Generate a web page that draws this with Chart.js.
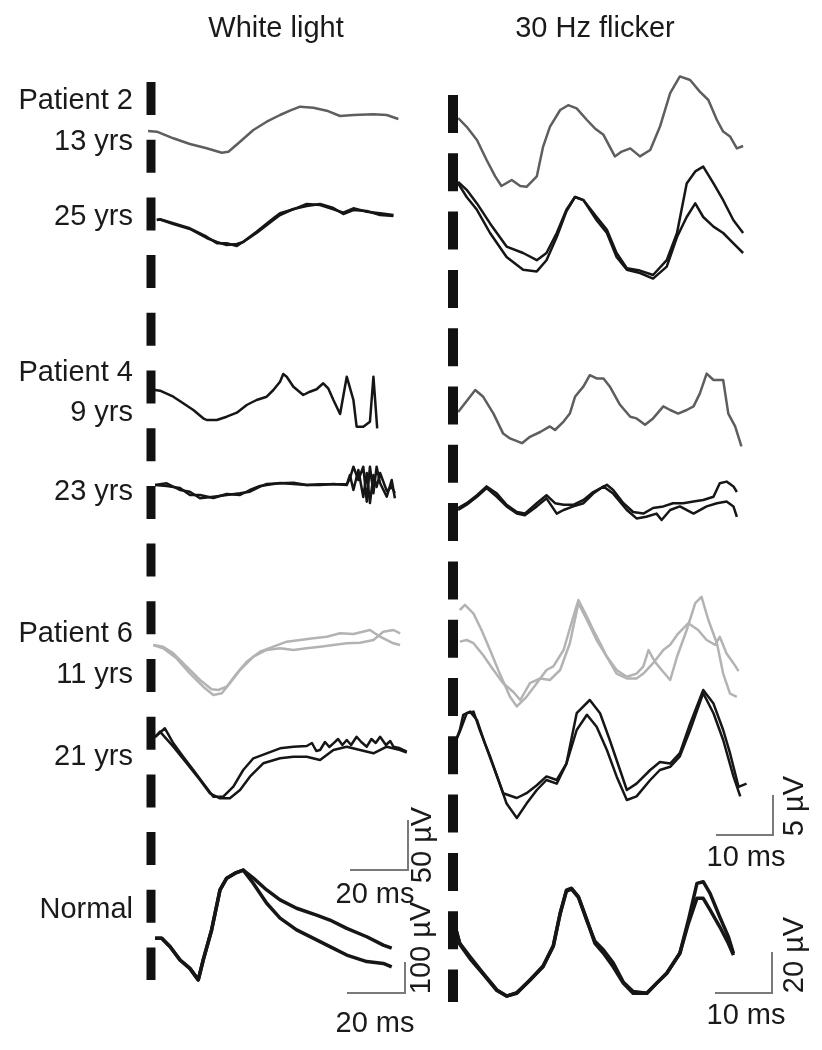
<!DOCTYPE html>
<html>
<head>
<meta charset="utf-8">
<script src="https://cdn.jsdelivr.net/npm/chart.js@4.4.1/dist/chart.umd.min.js"></script>
<style>
  body { margin: 0; background: #fff; }
  #wrap { position: relative; width: 822px; height: 1050px; overflow: hidden;
          font-family: "Liberation Sans", Arial, sans-serif; color: #1a1a1a; }
  #erg { position: absolute; left: 0; top: 0; }
  .lbl { position: absolute; font-size: 29px; line-height: 1; white-space: nowrap; }
</style>
</head>
<body>
<div id="wrap"><canvas id="erg" width="822" height="1050"></canvas></div>
<script>
/* global Chart */

// ---- white light (time in ms, amplitude in µV) ----
const wTimeP2a = [-1, 2.0, 7.7, 13.4, 19.2, 24.4, 26.7, 30.7, 35.3, 39.9, 44.5, 47.9, 51.4, 56.0, 60.6, 65.2, 69.8, 76.7, 81.3, 85.3];
const wP2_13   = [0, -0.7, -7.3, -13, -17.3, -21.7, -20.7, -10.7, 1, 9.3, 16, 20.3, 24.3, 23.3, 20.3, 15, 16, 16.7, 16, 12];
const wTimeP2b = [2.0, 3.1, 7.7, 13.4, 19.2, 22.7, 26.1, 29.6, 31.8, 36.4, 42.2, 44.5, 49.1, 53.7, 58.3, 62.9, 66.3, 69.8, 74.4, 79.0, 83.6];
const wP2_25a  = [0, 0.7, -3.3, -8.3, -16.7, -23.3, -23.3, -26, -21.7, -11.7, 1.7, 6.7, 10.7, 16, 15, 10.7, 7.3, 11.7, 8.3, 6.7, 5];
const wP2_25b  = [0, 0.5, -4, -9, -18, -22, -25, -24, -22, -13, 0, 5, 11, 14, 16, 12, 6, 10, 9, 5, 4];

const wTimeP4a = [1.4, 3.1, 7.7, 11.1, 14.6, 18.0, 19.2, 22.7, 26.1, 29.6, 33.0, 36.4, 39.9, 42.2, 44.5, 45.6, 46.8, 49.1, 52.5, 54.8, 57.1, 59.4, 61.1, 62.9, 65.2, 67.5, 69.8, 70.9, 73.2, 75.5, 76.7, 78.0];
const wP4_9    = [0, -0.7, -6.7, -13.3, -20, -28.3, -30, -30, -26.7, -22.7, -15, -10, -6.7, 0, 8.3, 16, 13.3, 3.3, -5, -1.7, 0.7, 6.7, 1.7, -10, -24, 13.3, -10, -36.7, -36.7, -31.7, 13.3, -38.3];
const wTimeP4b = [1.4, 5.4, 10.0, 13.4, 16.9, 21.5, 26.1, 30.7, 34.1, 37.6, 39.9, 44.5, 49.1, 53.7, 58.3, 62.9, 67.5, 68.6, 69.8, 71.5, 73.2, 74.4, 75.5, 76.7, 77.8, 79.0, 81.3, 83.0, 84.1];
const wP4_23a  = [0, 1.7, -5, -6.7, -13.3, -11.7, -10, -8.3, -6.7, -1.7, 1, 1.7, 2.3, 0, 0.7, 0.7, 0.7, 6.7, 18.3, 5, 18.3, -16.7, 18.3, -8.3, 18.3, 1.7, -11.7, 5, -13.3];
const wP4_23b  = [0, -1, -3, -10, -10, -13, -9, -10, -5, -1, 0, 2, 1, 0, 0, 1, 0, 10, -5, 15, -12, 12, -18, 10, -2, 12, -6, -2, -8];

const wTimeP6a = [0.8, 4.2, 7.7, 12.3, 16.9, 20.9, 23.2, 26.1, 29.6, 33.0, 37.6, 42.2, 46.8, 51.4, 56.0, 60.6, 65.2, 69.8, 75.5, 79.0, 83.6, 85.9];
const wP6_11a  = [0, -1.7, -8.3, -21.7, -35, -44.3, -45, -41.7, -28.3, -16.7, -6.7, -1.7, 3.3, 5, 6.7, 8.3, 11.7, 11, 15, 8.3, 1.7, 0];
const wTimeP6b = [0.8, 4.2, 8.8, 13.4, 18.0, 21.5, 24.4, 27.2, 30.7, 35.3, 39.9, 44.5, 49.1, 53.7, 58.3, 62.9, 67.5, 72.1, 76.7, 80.1, 83.6, 85.9];
const wP6_11b  = [0, -3.3, -13.3, -28.3, -41.7, -50, -48.3, -38.3, -25, -11.7, -5, -3.3, -5, -3.3, -1.7, 0, 1.7, 2.3, 5, 13.3, 15, 11.7];
const wTimeP6c = [1.4, 4.8, 7.7, 11.1, 14.6, 18.0, 21.5, 24.9, 28.4, 31.8, 35.3, 39.9, 44.5, 49.1, 53.7, 55.5, 57.0, 58.3, 60.0, 61.5, 62.9, 64.5, 66.0, 67.5, 69.0, 70.9, 72.5, 74.4, 76.0, 77.5, 79.0, 81.0, 82.5, 83.6, 85.5, 88.2];
const wP6_21a  = [0, 8.7, -6.3, -19.7, -33, -46.3, -59.7, -59.7, -49.7, -33, -21.3, -16.3, -11.3, -9.7, -9, -6, -14, -13, -5, -10, -6.3, -2, -8, -3, -8, 0.3, -5, -9.7, -2, -6, 0.3, -8, -4, -9.7, -11, -14.7];
const wTimeP6d = [1.4, 3.1, 7.7, 12.3, 16.9, 20.3, 23.8, 27.2, 30.7, 34.1, 38.7, 44.5, 49.1, 53.7, 58.3, 62.9, 67.5, 72.1, 76.7, 81.3, 85.9, 88.2];
const wP6_21b  = [0, 5.3, -9.7, -26.3, -43, -56.3, -61.3, -61.3, -53, -39.7, -26.3, -21.3, -19.7, -19.7, -23, -13, -9.7, -13, -16.3, -9.7, -13, -15.7];

const wTimeN = [1.4, 3.7, 6.6, 10.0, 13.4, 16.3, 18.0, 20.9, 23.8, 26.1, 29.0, 31.8, 35.3, 39.9, 44.5, 50.2, 57.1, 61.7, 67.5, 74.4, 80.1, 83.0];
const wN_a   = [-1, -1, -28, -71, -98, -135, -71, 26, 155, 193, 209, 219, 193, 155, 123, 96, 74, 58, 31, 4, -23, -33];
const wN_b   = [-1, -1, -28, -71, -98, -135, -71, 26, 155, 193, 209, 219, 176, 112, 64, 26, -6, -28, -55, -76, -82, -93];

// ---- 30 Hz flicker (time in ms, amplitude in µV) ----
const fTimeP2a = [0.9, 2.4, 4.2, 5.9, 7.4, 8.5, 10.3, 11.8, 12.9, 14.7, 15.8, 17.0, 18.8, 20.2, 21.7, 23.5, 24.9, 26.4, 28.4, 29.6, 31.1, 32.8, 34.6, 36.3, 38.1, 39.8, 41.6, 43.3, 44.8, 46.3, 47.4, 48.6, 49.8, 50.9];
const fP2_13   = [0, -1.1, -2.75, -5.25, -7.3, -8.5, -7.75, -8.5, -8.6, -7.3, -3.6, -1.1, 1, 1.6, 1.2, -0.25, -1.3, -2.1, -4.8, -4.2, -3.8, -4.8, -4, -1.1, 3.1, 5.2, 4.75, 3.3, 2.25, -0.25, -1.7, -2.3, -3.8, -3.5];
const fTimeP2b = [0.9, 2.4, 4.2, 6.5, 9.4, 12.3, 14.7, 16.4, 18.2, 19.9, 21.4, 22.9, 25.2, 27.0, 28.7, 30.5, 32.8, 35.1, 37.5, 39.3, 41.0, 42.5, 43.9, 45.7, 47.4, 49.2, 50.9];
const fP2_25a  = [-0.1, -1.1, -2.8, -5.3, -8.2, -9.0, -9.9, -9.0, -6.5, -3.6, -2.0, -2.4, -4.5, -6.1, -9.0, -10.9, -11.2, -11.75, -9.9, -6.5, -0.3, 1.2, 1.8, -0.3, -2.4, -4.9, -6.5];
const fP2_25b  = [-0.3, -2.0, -3.6, -6.5, -9.5, -11.1, -11.3, -9.9, -7.0, -3.8, -2.0, -2.4, -4.9, -6.5, -9.5, -11.1, -11.5, -12.2, -10.7, -7.0, -4.5, -2.8, -4.5, -5.7, -6.5, -7.8, -9.0];

const fTimeP4a = [0.9, 2.1, 3.9, 5.3, 7.1, 8.8, 10.0, 12.1, 13.5, 15.3, 17.0, 17.9, 19.4, 20.5, 21.4, 22.9, 24.0, 25.2, 26.4, 27.5, 29.3, 31.1, 32.2, 33.7, 35.1, 36.9, 38.1, 39.5, 41.0, 42.2, 43.3, 44.5, 45.7, 47.4, 48.3, 49.5, 50.6];
const fP4_9    = [0, 1.1, 2.75, 1.9, -0.2, -2.7, -3.3, -3.9, -3.1, -2.5, -1.8, -2.25, -1.2, -0.2, 1.9, 3.2, 4.6, 4.2, 4.2, 3.2, 0.9, -0.6, -0.8, -1.6, -0.8, 0.7, 0.25, -0.2, 0.25, 0.7, 2.3, 4.8, 4, 4, -0.2, -1.8, -4.3];
const fTimeP4b = [0.9, 2.4, 4.2, 5.9, 7.7, 9.4, 11.2, 12.6, 14.7, 16.4, 17.9, 19.4, 21.1, 22.9, 24.6, 27.0, 28.1, 29.9, 31.6, 33.4, 35.1, 36.9, 38.6, 40.4, 42.2, 43.9, 45.7, 46.8, 48.0, 49.2, 49.8];
const fP4_23a  = [0, 0.6, 1.6, 2.7, 1.8, 0.4, -0.5, -0.7, 0.6, 1.6, 0.6, 0.4, 0.4, 1, 2, 2.9, 2.25, 0.6, -0.5, -0.7, 0, 0.2, 0.6, 0.6, 0.8, 1, 1.4, 3.1, 3.3, 2.7, 2];
const fTimeP4c = [0.9, 2.4, 4.2, 5.9, 7.7, 9.4, 11.2, 12.6, 14.7, 16.4, 18.2, 19.4, 21.1, 22.9, 24.6, 26.4, 28.1, 30.5, 32.2, 33.9, 35.7, 36.6, 38.1, 39.8, 42.2, 44.5, 46.3, 48.0, 49.2, 49.8];
const fP4_23b  = [-0.25, 0.4, 1.4, 2.5, 1.4, 0.2, -0.7, -0.9, 0.2, 1.2, -0.7, -0.25, 0.2, 0.6, 1.8, 2.7, 1.8, -0.25, -1.3, -1.1, -0.7, -1.5, -0.25, 0.2, -0.7, 0.2, 0.6, 0.8, 0.2, -1.1];

const fTimeP6a = [1.2, 2.1, 3.6, 5.0, 6.5, 8.2, 10.0, 11.2, 12.9, 14.7, 16.4, 17.6, 19.4, 21.1, 22.0, 23.5, 24.6, 25.8, 27.0, 28.7, 30.5, 32.2, 33.4, 34.3, 35.4, 36.6, 38.1, 39.3, 41.0, 42.5, 43.6, 44.8, 46.3, 47.4, 48.6, 49.8];
const fP6_11a  = [3.75, 4.4, 3.3, 1.25, -1.25, -4.2, -7.1, -8.3, -7.1, -5.4, -3.75, -3.3, -1.25, 2.9, 5, 2.9, 1.25, -0.4, -2.1, -3.75, -4.6, -4.2, -3.3, -1.25, -2.7, -3.75, -5, -2.1, 1.25, 4.6, 5.4, 2.5, -0.4, -4.2, -6.7, -7.1];
const fTimeP6b = [1.2, 2.4, 3.6, 5.3, 7.1, 8.8, 10.6, 11.8, 13.5, 15.3, 17.0, 18.8, 20.5, 22.0, 23.5, 25.2, 27.0, 28.7, 30.5, 32.2, 33.4, 35.1, 36.9, 38.1, 39.5, 41.3, 43.0, 44.5, 46.0, 46.8, 48.0, 49.2, 50.1];
const fP6_11b  = [-0.2, 0, -0.4, -1.9, -3.75, -5.4, -6.5, -7.5, -5.4, -4.8, -5, -3.75, -0.4, 4.6, 2.5, 0, -2.1, -4.2, -4.8, -4.8, -4.2, -2.9, -1.25, -0.6, 0.8, 2.1, 1.25, 0, -0.6, 0.4, -1.7, -2.9, -3.9];
const fTimeP6c = [0.4, 1.2, 1.8, 3.0, 4.2, 5.6, 7.1, 8.8, 11.2, 12.9, 14.7, 16.4, 18.2, 19.9, 21.7, 24.0, 25.8, 27.5, 29.3, 30.5, 32.2, 34.6, 36.3, 38.1, 39.8, 41.6, 43.9, 45.7, 47.4, 48.6, 50.1, 51.5];
const fP6_21a  = [0, 1.5, 3.4, 3.8, 2.75, -0.2, -3.1, -6.4, -7.0, -6.4, -5.4, -4.3, -4.75, -2.7, 3.6, 5.25, 3.6, 0.25, -3.5, -6, -5.2, -3.5, -2.5, -2.7, -1.4, 2.3, 6.5, 4.8, 1.5, -1.4, -5.6, -5.2];
const fTimeP6d = [0.4, 1.2, 2.4, 3.6, 4.7, 6.5, 8.2, 9.4, 11.2, 12.9, 14.7, 16.4, 18.2, 19.9, 21.7, 23.5, 25.2, 27.0, 28.7, 30.5, 32.2, 34.6, 36.3, 38.1, 39.8, 41.6, 43.9, 45.7, 47.4, 49.2, 50.4];
const fP6_21b  = [0, 1.3, 3.6, 3.8, 1.5, -1.8, -5.2, -7.7, -9.5, -7.7, -6, -4.75, -5.2, -2.7, 1.5, 3.4, 1.9, -1, -4.3, -7.25, -6.8, -4.75, -3.5, -3.1, -1.8, 1.5, 6.1, 3.6, 0.25, -4.3, -6.8];

const fTimeN = [0.4, 1.2, 3.0, 5.3, 7.7, 9.4, 11.2, 13.5, 15.8, 17.6, 18.8, 19.9, 20.8, 22.0, 23.5, 24.9, 26.4, 28.1, 29.9, 31.6, 34.0, 35.7, 37.5, 39.8, 41.3, 42.8, 43.9, 45.1, 46.8, 48.3, 49.2];
const fN_a   = [0, -8, -14.5, -22.6, -30.7, -33.7, -32.3, -25.9, -19.4, -9.4, 6.7, 18, 18.9, 14.8, 3.4, -8, -12.8, -19.4, -27.5, -32.3, -32.3, -27.5, -22.6, -12.8, 3.4, 21.3, 22.1, 16.4, 4.9, -4.7, -12.8];
const fN_b   = [0, -8.5, -15.5, -23, -31, -33.7, -32, -26, -19, -9, 6.5, 17.5, 18.5, 14.5, 3, -7, -11.2, -17.5, -27, -31.5, -32.3, -27.5, -22.6, -12.8, 1.8, 14, 14, 8.3, 0.1, -7.9, -13.7];

// scale bars: [ms, µV]
const barPatientWhite = [20, 50];
const barNormalWhite  = [20, 100];
const barPatientFlick = [10, 5];
const barNormalFlick  = [10, 20];

// ---- layout (page pixels) ----
const WHITE = { x0: 151, kx: 2.9, dashTop: 82, dashBottom: 980, dashW: 9, dash: [33, 24.7] };
const FLICK = { x0: 453, kx: 5.7, dashTop: 95, dashBottom: 1002, dashW: 10, dash: [38, 20.3] };
const INK = '#161616', GREY = '#5e5e5e', PALE = '#b3b3b3', BAR = '#7a7a7a';

function trace(col, base, ky, t, v, color, width = 2.5) {
    return {
        data: t.map((ms, i) => ({ x: col.x0 + ms * col.kx, y: base - v[i] * ky })),
        borderColor: color,
        borderWidth: width,
        borderJoinStyle: 'round',
        showLine: true,
        pointRadius: 0,
        tension: 0,
    };
}

function marker(col) {
    return {
        data: [{ x: col.x0, y: col.dashTop }, { x: col.x0, y: col.dashBottom }],
        borderColor: '#111',
        borderWidth: col.dashW,
        borderDash: col.dash,
        borderCapStyle: 'butt',
        showLine: true,
        pointRadius: 0,
    };
}

// corner of the L-shaped bar, then ms along x and µV along y
function scaleBar(col, ky, cx, cy, [ms, uv]) {
    return {
        data: [{ x: cx - ms * col.kx, y: cy }, { x: cx, y: cy }, { x: cx, y: cy - uv * ky }],
        borderColor: BAR,
        borderWidth: 2,
        showLine: true,
        pointRadius: 0,
    };
}

const datasets = [
    marker(WHITE),
    marker(FLICK),

    trace(WHITE, 131, 1, wTimeP2a, wP2_13, GREY),
    trace(WHITE, 220, 1, wTimeP2b, wP2_25a, INK),
    trace(WHITE, 220, 1, wTimeP2b, wP2_25b, INK),
    trace(WHITE, 390, 1, wTimeP4a, wP4_9, INK),
    trace(WHITE, 485, 1, wTimeP4b, wP4_23a, INK),
    trace(WHITE, 485, 1, wTimeP4b, wP4_23b, INK),
    trace(WHITE, 645, 1, wTimeP6a, wP6_11a, PALE),
    trace(WHITE, 645, 1, wTimeP6b, wP6_11b, PALE),
    trace(WHITE, 737, 1, wTimeP6c, wP6_21a, INK),
    trace(WHITE, 737, 1, wTimeP6d, wP6_21b, INK),
    trace(WHITE, 938, 0.31, wTimeN, wN_a, INK, 3.5),
    trace(WHITE, 938, 0.31, wTimeN, wN_b, INK, 3.5),

    trace(FLICK, 118, 8, fTimeP2a, fP2_13, GREY),
    trace(FLICK, 181, 8, fTimeP2b, fP2_25a, INK),
    trace(FLICK, 181, 8, fTimeP2b, fP2_25b, INK),
    trace(FLICK, 412, 8, fTimeP4a, fP4_9, GREY),
    trace(FLICK, 508, 8, fTimeP4b, fP4_23a, INK),
    trace(FLICK, 508, 8, fTimeP4c, fP4_23b, INK),
    trace(FLICK, 640, 8, fTimeP6a, fP6_11a, PALE),
    trace(FLICK, 640, 8, fTimeP6b, fP6_11b, PALE),
    trace(FLICK, 742, 8, fTimeP6c, fP6_21a, INK),
    trace(FLICK, 742, 8, fTimeP6d, fP6_21b, INK),
    trace(FLICK, 927, 2.05, fTimeN, fN_a, INK, 3.5),
    trace(FLICK, 927, 2.05, fTimeN, fN_b, INK, 3.5),

    scaleBar(WHITE, 1, 408, 870, barPatientWhite),
    scaleBar(WHITE, 0.31, 405, 993, barNormalWhite),
    scaleBar(FLICK, 8, 773, 835, barPatientFlick),
    scaleBar(FLICK, 2.05, 772, 993, barNormalFlick),
];

new Chart(document.getElementById('erg'), {
    type: 'scatter',
    data: { datasets },
    options: {
        responsive: false,
        animation: false,
        devicePixelRatio: 1,
        layout: { padding: 0 },
        plugins: { legend: { display: false }, tooltip: { enabled: false } },
        scales: {
            x: { type: 'linear', min: 0, max: 822, display: false },
            y: { type: 'linear', min: 0, max: 1050, reverse: true, display: false },
        },
    },
});

// text: [label, x, y, align, rotated]
const labels = [
    ['White light', 276, 27, 'center'],
    ['30 Hz flicker', 595, 27, 'center'],
    ['Patient 2', 133, 99, 'right'],
    ['13 yrs', 133, 140, 'right'],
    ['25 yrs', 133, 215, 'right'],
    ['Patient 4', 133, 371, 'right'],
    ['9 yrs', 133, 411, 'right'],
    ['23 yrs', 133, 490, 'right'],
    ['Patient 6', 133, 632, 'right'],
    ['11 yrs', 133, 673, 'right'],
    ['21 yrs', 133, 755, 'right'],
    ['Normal', 133, 908, 'right'],
    ['20 ms', 375, 893, 'center'],
    ['20 ms', 375, 1022, 'center'],
    ['10 ms', 746, 856, 'center'],
    ['10 ms', 746, 1014, 'center'],
    ['50 µV', 421, 845, 'center', true],
    ['100 µV', 420, 948, 'center', true],
    ['5 µV', 793, 806, 'center', true],
    ['20 µV', 793, 955, 'center', true],
];

const wrap = document.getElementById('wrap');
labels.forEach(([text, x, y, align, rot]) => {
    const el = document.createElement('div');
    el.className = 'lbl';
    el.textContent = text;
    el.style.left = x + 'px';
    el.style.top = y + 'px';
    const tx = align === 'right' ? '-100%' : '-50%';
    el.style.transform = `translate(${tx}, -50%)` + (rot ? ' rotate(-90deg)' : '');
    wrap.appendChild(el);
});
</script>
</body>
</html>
